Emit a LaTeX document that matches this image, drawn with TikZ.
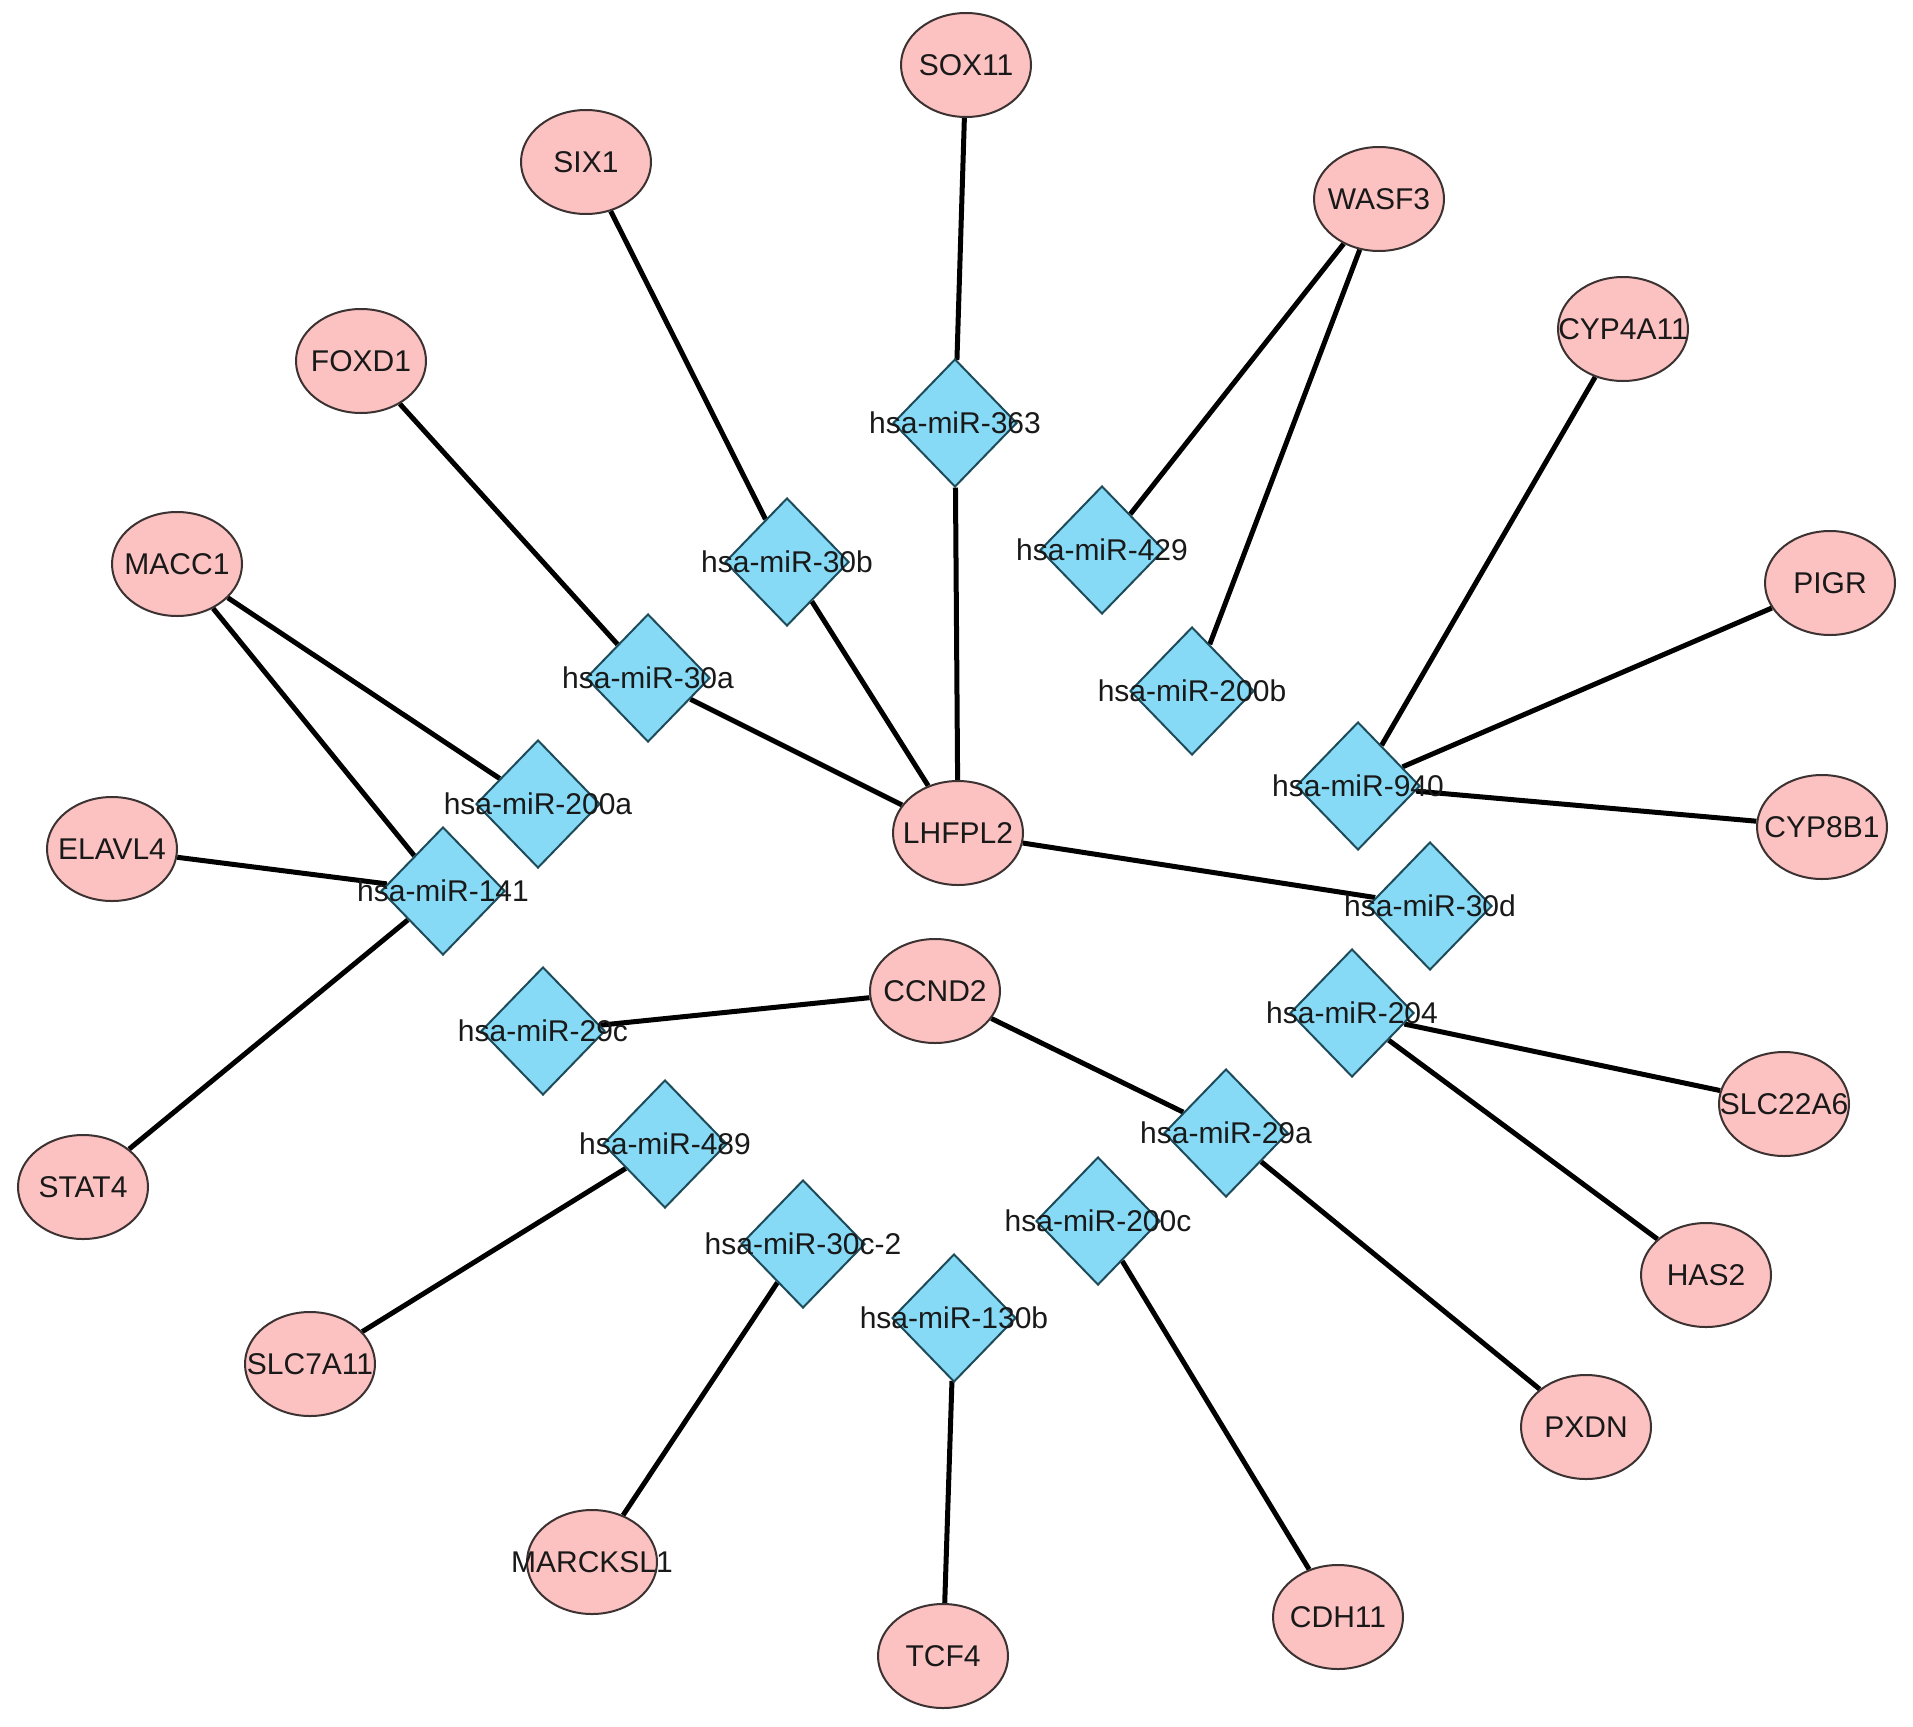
\documentclass[tikz,border=0pt]{standalone}
\usepackage{fontspec}
\setmainfont{Liberation Sans}
\usetikzlibrary{shapes.geometric,backgrounds}
\definecolor{genefill}{RGB}{252,194,194}
\definecolor{geneline}{RGB}{60,50,50}
\definecolor{mirfill}{RGB}{135,218,246}
\definecolor{mirline}{RGB}{30,75,90}
\definecolor{txt}{RGB}{25,25,25}
\tikzset{
  gene/.style={ellipse, draw=geneline, fill=genefill, line width=2pt, minimum width=130pt, minimum height=104pt, inner sep=0pt},
  mir/.style={diamond, draw=mirline, fill=mirfill, line width=2pt, minimum width=124pt, minimum height=128pt, inner sep=0pt},
  lbl/.style={font=\fontsize{30}{34}\selectfont, text=txt, inner sep=0pt},
  edge/.style={line width=5pt, draw=black}
}
\newcommand\genenode[3]{\node[gene] (#1) at (#2) {}; \node[lbl] (#1t) at (#1) {#3};}
\newcommand\mirnode[3]{\node[mir] (#1) at (#2) {}; \node[lbl] (#1t) at (#1) {#3};}
\begin{document}
\begin{tikzpicture}[x=1pt,y=-1pt]
\useasboundingbox (0,0) rectangle (1913,1726);
\begin{pgfonlayer}{background}
\fill[white] (0,0) rectangle (1913,1726);
\end{pgfonlayer}
% genes
\genenode{sox}{966,65}{SOX11}
\genenode{six}{586,162}{SIX1}
\genenode{wasf}{1379,199}{WASF3}
\genenode{cyp4}{1623,329}{CYP4A11}
\genenode{foxd}{361,361}{FOXD1}
\genenode{pigr}{1830,583}{PIGR}
\genenode{macc}{177,564}{MACC1}
\genenode{elavl}{112,849}{ELAVL4}
\genenode{lhfpl}{958,833}{LHFPL2}
\genenode{cyp8}{1822,827}{CYP8B1}
\genenode{ccnd}{935,991}{CCND2}
\genenode{stat}{83,1187}{STAT4}
\genenode{slc22}{1784,1104}{SLC22A6}
\genenode{has}{1706,1275}{HAS2}
\genenode{slc7}{310,1364}{SLC7A11}
\genenode{pxdn}{1586,1427}{PXDN}
\genenode{marck}{592,1562}{MARCKSL1}
\genenode{cdh}{1338,1617}{CDH11}
\genenode{tcf}{943,1656}{TCF4}
% miRNAs
\mirnode{m363}{955,423}{hsa-miR-363}
\mirnode{m30b}{787,562}{hsa-miR-30b}
\mirnode{m429}{1102,550}{hsa-miR-429}
\mirnode{m30a}{648,678}{hsa-miR-30a}
\mirnode{m200b}{1192,691}{hsa-miR-200b}
\mirnode{m200a}{538,804}{hsa-miR-200a}
\mirnode{m940}{1358,786}{hsa-miR-940}
\mirnode{m141}{443,891}{hsa-miR-141}
\mirnode{m30d}{1430,906}{hsa-miR-30d}
\mirnode{m204}{1352,1013}{hsa-miR-204}
\mirnode{m29c}{543,1031}{hsa-miR-29c}
\mirnode{m29a}{1226,1133}{hsa-miR-29a}
\mirnode{m489}{665,1144}{hsa-miR-489}
\mirnode{m200c}{1098,1221}{hsa-miR-200c}
\mirnode{m30c}{803,1244}{hsa-miR-30c-2}
\mirnode{m130b}{954,1318}{hsa-miR-130b}
\begin{pgfonlayer}{background}
\draw[edge] (sox) -- (m363);
\draw[edge] (m363) -- (lhfpl);
\draw[edge] (six) -- (m30b);
\draw[edge] (m30b) -- (lhfpl);
\draw[edge] (foxd) -- (m30a);
\draw[edge] (m30a) -- (lhfpl);
\draw[edge] (wasf) -- (m429);
\draw[edge] (wasf) -- (m200b);
\draw[edge] (cyp4) -- (m940);
\draw[edge] (pigr) -- (m940);
\draw[edge] (cyp8) -- (m940);
\draw[edge] (macc) -- (m200a);
\draw[edge] (macc) -- (m141);
\draw[edge] (elavl) -- (m141);
\draw[edge] (stat) -- (m141);
\draw[edge] (lhfpl) -- (m30d);
\draw[edge] (ccnd) -- (m29c);
\draw[edge] (ccnd) -- (m29a);
\draw[edge] (m29a) -- (pxdn);
\draw[edge] (m204) -- (slc22);
\draw[edge] (m204) -- (has);
\draw[edge] (m489) -- (slc7);
\draw[edge] (m30c) -- (marck);
\draw[edge] (m130b) -- (tcf);
\draw[edge] (m200c) -- (cdh);
\end{pgfonlayer}
\end{tikzpicture}
\end{document}
